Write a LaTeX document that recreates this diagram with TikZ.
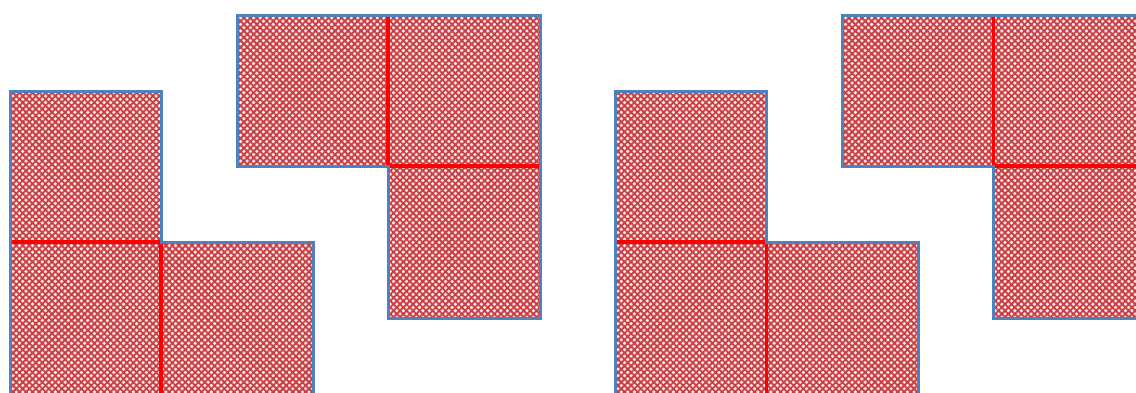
\documentclass[tikz,border=0pt]{standalone}
\usepackage{xcolor}
\usepackage{tikz}
\usetikzlibrary{patterns.meta}

\definecolor{edgeblue}{RGB}{79,129,189}
\definecolor{hatchred}{RGB}{200,62,66}

\tikzset{
    cellfill/.style={fill=red!10},
    hatchA/.style={pattern={Lines[angle=45, distance=4.6pt, line width=1.8pt]}, pattern color=hatchred},
    hatchB/.style={pattern={Lines[angle=-45, distance=4.6pt, line width=1.8pt]}, pattern color=hatchred},
    outline/.style={draw=edgeblue, line width=3pt, line join=miter},
    seam/.style={draw=red, line width=3.4pt}
}

\begin{document}
\begin{tikzpicture}[x=1pt, y=-1pt]
    \useasboundingbox (0,0) rectangle (1136,392);
    \clip (0,0) rectangle (1136,392);

    \foreach \dx in {0, 605.5} {
        \begin{scope}[xshift=\dx pt]
            % lower L piece
            \foreach \hatch in {cellfill, hatchA, hatchB}
                \path[\hatch] (10,91) -- (161,91) -- (161,242) -- (313,242) -- (313,400) -- (10,400) -- cycle;
            \draw[seam] (10,242) -- (161,242) -- (161,400);
            \draw[outline] (10,400) -- (10,91) -- (161,91) -- (161,242) -- (313,242) -- (313,400);

            % upper L piece
            \foreach \hatch in {cellfill, hatchA, hatchB}
                \path[\hatch] (237,15) -- (540,15) -- (540,318) -- (388,318) -- (388,166) -- (237,166) -- cycle;
            \draw[seam] (388,15) -- (388,166) -- (540,166);
            \draw[outline] (237,15) -- (540,15) -- (540,318) -- (388,318) -- (388,166) -- (237,166) -- cycle;
        \end{scope}
    }
\end{tikzpicture}
\end{document}
